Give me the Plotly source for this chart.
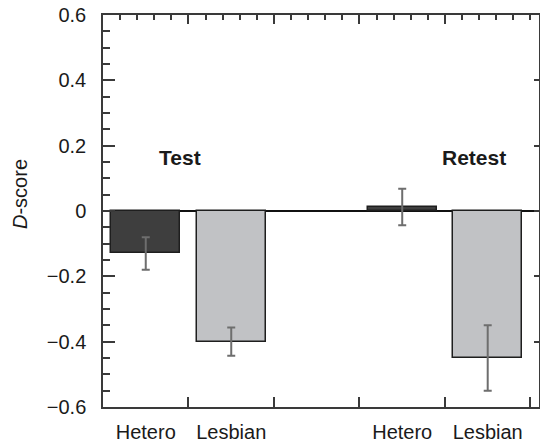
import plotly.graph_objects as go

# ---- data ----
categories = ["Hetero", "Lesbian", "Hetero", "Lesbian"]
bar_pos = [0.5, 1.5, 3.5, 4.5]
d_scores = [-0.13, -0.40, 0.012, -0.45]
errors = [0.05, 0.043, 0.056, 0.10]
bar_colors = ["#3e3e3e", "#c1c2c5", "#3e3e3e", "#c1c2c5"]
group_labels = ["Test", "Retest"]
group_label_x = [0.90, 4.34]
group_label_y = [0.165, 0.165]
y_ticks = [-0.6, -0.4, -0.2, 0, 0.2, 0.4, 0.6]
x_boundaries = [1, 2, 3, 4, 5]
top_ticks = [1, 2, 3, 4]

FONT = "Liberation Sans, Arial, sans-serif"
AX = "#3a3a3a"
XR = [0, 5.1]
YR = [-0.6, 0.6]

W, H = 540, 444
ML, MR, MT, MB = 103, 1, 15, 37
pw, ph = W - ML - MR, H - MT - MB

fig = go.Figure()
fig.add_trace(go.Bar(
    x=bar_pos, y=d_scores, width=0.81,
    marker=dict(color=bar_colors, line=dict(color="#1e1e1e", width=1.5)),
    error_y=dict(type="data", array=errors, visible=True,
                 color="#6e6e6e", thickness=2, width=4),
    showlegend=False, hoverinfo="skip",
))
# invisible trace to carry the top/right mirror axes
fig.add_trace(go.Scatter(x=[None], y=[None], xaxis="x2", yaxis="y2",
                         showlegend=False, hoverinfo="skip"))

for txt, gx, gy in zip(group_labels, group_label_x, group_label_y):
    fig.add_annotation(x=gx, y=gy, xref="x", yref="y", text="<b>%s</b>" % txt,
                       showarrow=False, font=dict(family=FONT, size=21, color="#1a1a1a"),
                       xanchor="center", yanchor="middle")

fig.add_annotation(x=(20 - ML) / pw, y=(H - MB - 194) / ph, xref="paper", yref="paper",
                   text="<i>D</i>-score", showarrow=False, textangle=-90,
                   font=dict(family=FONT, size=20, color="#1a1a1a"),
                   xanchor="center", yanchor="middle")

fig.update_layout(
    width=W, height=H,
    margin=dict(l=ML, r=MR, t=MT, b=MB, pad=0, autoexpand=False),
    plot_bgcolor="white", paper_bgcolor="white",
    bargap=0,
    font=dict(family=FONT, color="#1a1a1a"),
    xaxis=dict(
        range=XR, showgrid=False, zeroline=False, automargin=False,
        showline=True, linecolor=AX, linewidth=1.5,
        tickmode="array", tickvals=bar_pos, ticktext=categories,
        ticks="", tickfont=dict(family=FONT, size=20, color="#1a1a1a"),
        ticklabelstandoff=6,
        minor=dict(tickmode="array", tickvals=x_boundaries, ticks="inside",
                   ticklen=10, tickwidth=1.5, tickcolor=AX, showgrid=False),
        fixedrange=True,
    ),
    xaxis2=dict(
        range=XR, overlaying="x", side="top", showgrid=False, zeroline=False,
        automargin=False,
        showline=True, linecolor=AX, linewidth=1.5,
        tickmode="array", tickvals=top_ticks, ticks="inside", ticklen=9,
        tickwidth=1.5, tickcolor=AX, showticklabels=False,
        minor=dict(dtick=0.2, tick0=0, ticks="inside", ticklen=5,
                   tickwidth=1.5, tickcolor=AX, showgrid=False),
        fixedrange=True,
    ),
    yaxis=dict(
        range=YR, showgrid=False, automargin=False,
        zeroline=True, zerolinecolor="#111111", zerolinewidth=1.5,
        showline=True, linecolor=AX, linewidth=1.5,
        tickmode="array", tickvals=y_ticks, ticks="inside", ticklen=12,
        tickwidth=1.5, tickcolor=AX,
        tickfont=dict(family=FONT, size=20, color="#1a1a1a"),
        ticklabelstandoff=11,
        minor=dict(dtick=0.05, tick0=0, ticks="inside", ticklen=7,
                   tickwidth=1.5, tickcolor=AX, showgrid=False),
        fixedrange=True,
    ),
    yaxis2=dict(
        range=YR, overlaying="y", side="right", showgrid=False, zeroline=False,
        automargin=False,
        showline=True, linecolor=AX, linewidth=1.5,
        tickmode="array", tickvals=y_ticks, ticks="inside", ticklen=5,
        tickwidth=1.5, tickcolor=AX, showticklabels=False,
        fixedrange=True,
    ),
)

fig.write_html("out.html", config={"displayModeBar": False},
               post_script="document.body.style.margin='0';document.body.style.padding='0';")
